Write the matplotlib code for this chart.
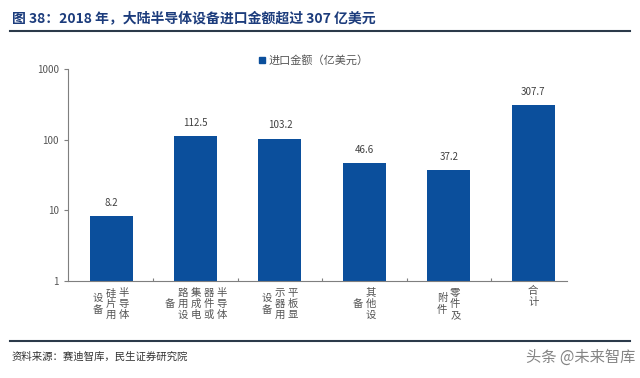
import matplotlib.pyplot as plt
from matplotlib.lines import Line2D
import numpy as np

plt.rcParams['font.family'] = ['Noto Sans CJK SC', 'DejaVu Sans']

# Data
categories = ['半导体硅片用设备', '半导体器件或集成电路用设备', '平板显示器用设备',
              '其他设备', '零件及附件', '合计']
# label columns (right to left, vertical text)
label_columns = [['半导体', '硅片用', '设备'],
                 ['半导体', '器件或', '集成电', '路用设', '备'],
                 ['平板显', '示器用', '设备'],
                 ['其他设', '备'],
                 ['零件及', '附件'],
                 ['合计']]
values = [8.2, 112.5, 103.2, 46.6, 37.2, 307.7]
value_labels = ['8.2', '112.5', '103.2', '46.6', '37.2', '307.7']
series_name = '进口金额（亿美元）'

bar_color = '#0b4f9c'
text_grey = '#555555'
line_color = '#2b3a4a'

fig = plt.figure(figsize=(6.4, 3.78), dpi=100)
ax = fig.add_axes([68 / 640, 1 - 281 / 378, 499 / 640, 212 / 378])

x = np.arange(len(values))
ax.bar(x, values, width=0.51, color=bar_color, zorder=2)
ax.set_yscale('log')
ax.set_ylim(1, 1000)
ax.set_xlim(-0.51, 5.4)

# value labels above bars
for xi, v, s in zip(x, values, value_labels):
    ax.annotate(s, xy=(xi, v), xytext=(0, 6), textcoords='offset points',
                ha='center', va='bottom', fontsize=7, color='#404040')

# axes styling
for side in ['top', 'right']:
    ax.spines[side].set_visible(False)
ax.spines['left'].set_color('#7f7f7f')
ax.spines['bottom'].set_color('#7f7f7f')
ax.set_yticks([1, 10, 100, 1000])
ax.set_yticklabels(['1', '10', '100', '1000'])
ax.yaxis.set_minor_locator(plt.NullLocator())
ax.tick_params(axis='y', labelsize=7, colors='#7f7f7f', labelcolor=text_grey,
               length=3, width=0.8)
ax.set_xticks(np.arange(0.5, 5.5, 1))
ax.set_xticklabels([])
ax.tick_params(axis='x', direction='in', length=2, color='#7f7f7f', width=0.8)

# vertical category labels, columns read right to left
px = 0.72  # points per pixel
for i, cols in enumerate(label_columns):
    n = len(cols)
    for j, col in enumerate(cols):
        dx = ((n - 1) / 2 - j) * 13 * px
        if n == 1:
            dy, va = -5 * px, 'top'
        else:
            dy, va = -23 * px, 'center'
        ax.annotate('\n'.join(col), xy=(i, 0), xycoords=('data', 'axes fraction'),
                    xytext=(dx, dy), textcoords='offset points',
                    ha='center', va=va, fontsize=7.5, color=text_grey,
                    linespacing=1.15)

# legend
handle = Line2D([0], [0], marker='s', color='w', markerfacecolor=bar_color,
                markeredgecolor=bar_color, markersize=5, label=series_name)
fig.legend(handles=[handle], loc='center', bbox_to_anchor=(0.49, 1 - 60 / 378),
           frameon=False, fontsize=8, handlelength=0.6, handletextpad=0.3,
           labelcolor=text_grey)

# title and rules
fig.text(12 / 640, 1 - 18 / 378, '图 38：2018 年，大陆半导体设备进口金额超过 307 亿美元',
         fontsize=10, fontweight='bold', color='#1c3c7c', va='center', ha='left')
fig.add_artist(Line2D([10 / 640, 630 / 640], [1 - 31 / 378, 1 - 31 / 378],
                      color=line_color, linewidth=1.5))
fig.add_artist(Line2D([10 / 640, 630 / 640], [1 - 341 / 378, 1 - 341 / 378],
                      color=line_color, linewidth=1.5))

# source and watermark
fig.text(12 / 640, 1 - 357 / 378, '资料来源：赛迪智库，民生证券研究院',
         fontsize=7.5, color='#333333', va='center', ha='left')
fig.text(635 / 640, 1 - 357 / 378, '头条 @未来智库',
         fontsize=11, color='#666666', va='center', ha='right', alpha=0.8)

fig.savefig('out.png', dpi=100)
